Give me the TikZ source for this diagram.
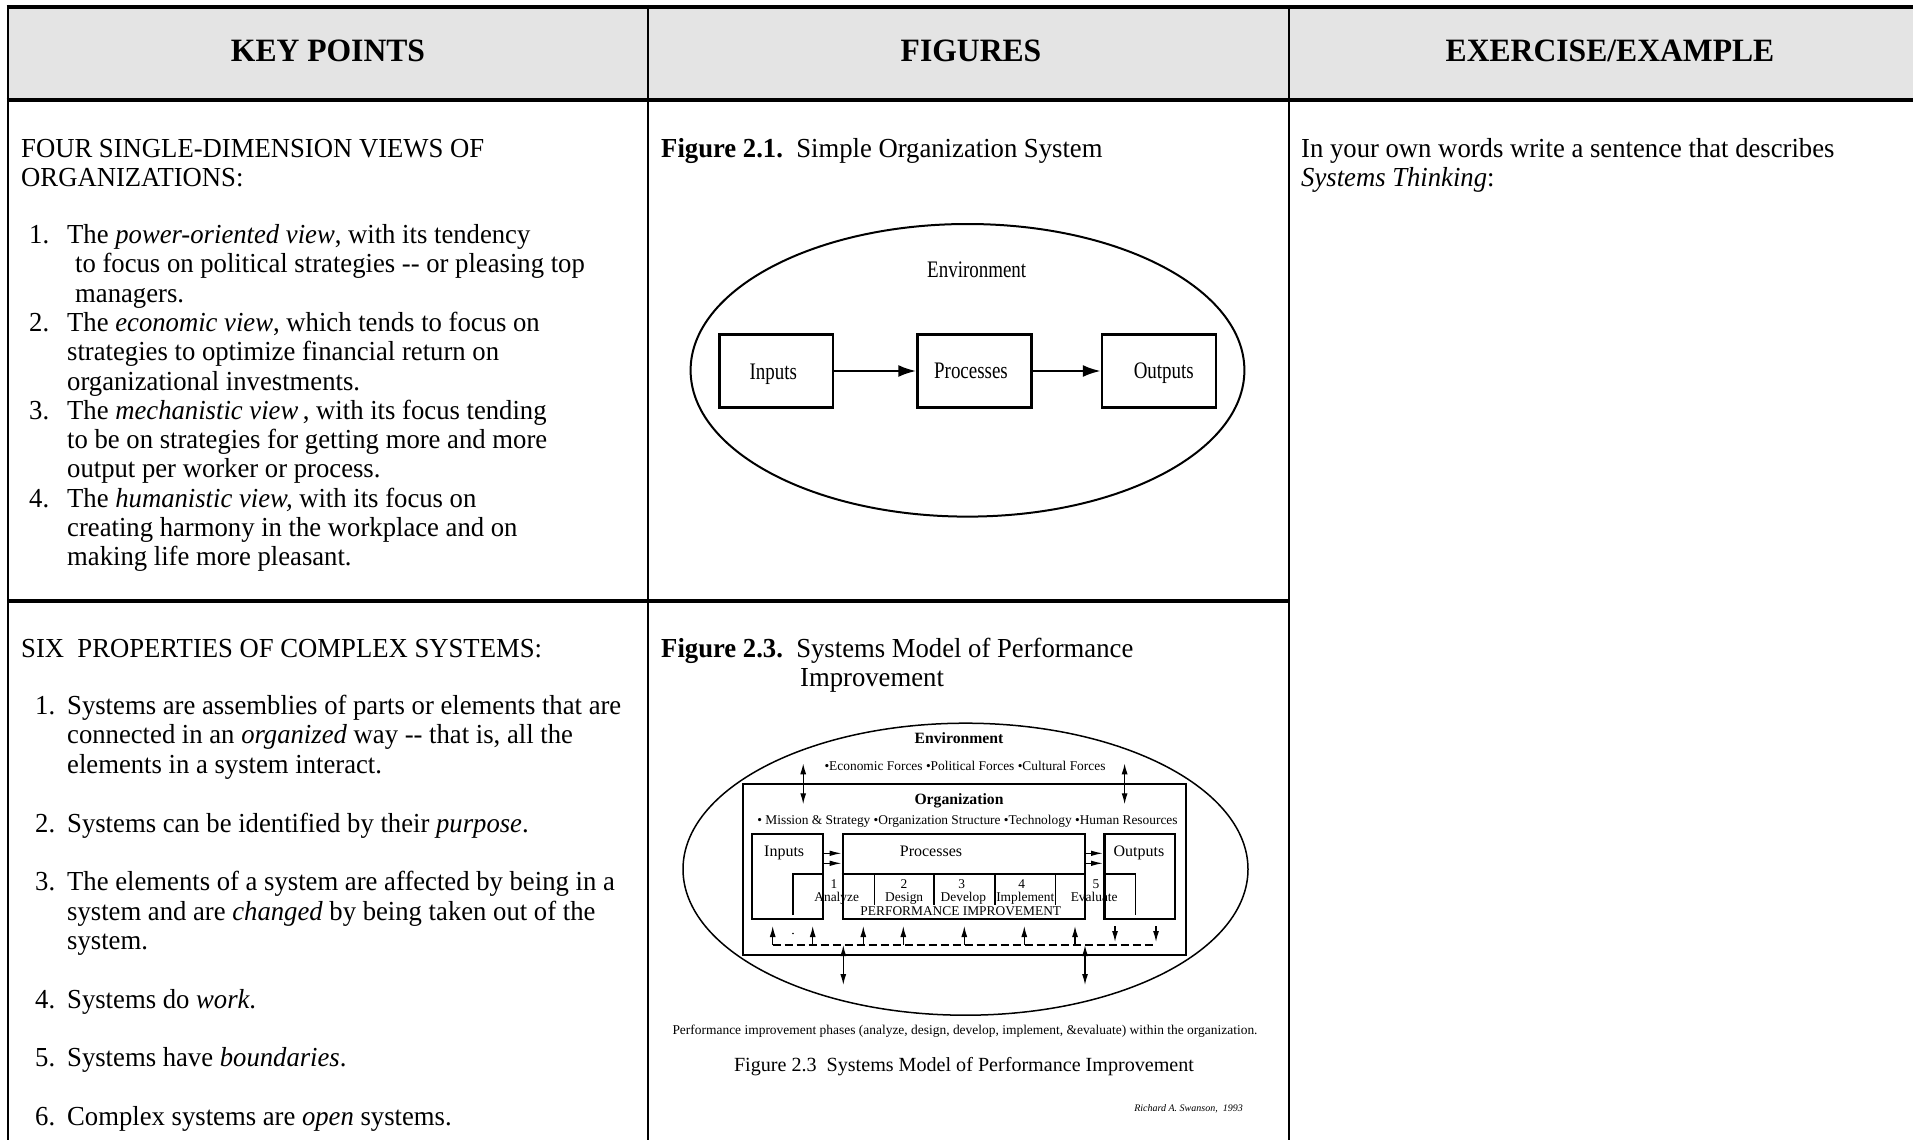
\documentclass[tikz,border=0pt]{standalone}
\usepackage{fontspec}
\setmainfont{Liberation Serif}[FakeStretch=0.97]
\newfontfamily\condfont{Liberation Serif}[FakeStretch=0.8]
\newfontfamily\figfont{Liberation Serif}
\usetikzlibrary{arrows.meta}
\definecolor{hdrgray}{HTML}{E4E4E4}
\tikzset{
  body/.style={inner sep=0pt, anchor=base west, font=\fontsize{27.5}{29}\selectfont},
  hdr/.style={inner sep=0pt, anchor=base, font=\fontsize{32.6}{36}\selectfont\bfseries},
  f1txt/.style={inner sep=0pt, anchor=base, font=\condfont\fontsize{23.7}{26}\selectfont},
  f1box/.style={draw, line width=2.5pt, minimum width=113.7pt, minimum height=73.4pt, inner sep=0pt},
  f1arr/.style={line width=2.5pt, -{Latex[length=18pt,width=12pt]}},
  thickrule/.style={line width=4pt},
  vrule/.style={line width=2.6pt},
  f3bold/.style={inner sep=0pt, anchor=base, font=\figfont\fontsize{15.7}{17}\selectfont\bfseries},
  f3small/.style={inner sep=0pt, anchor=base, font=\figfont\fontsize{13.4}{14}\selectfont},
  f3lab/.style={inner sep=0pt, anchor=base, font=\figfont\fontsize{16}{17}\selectfont},
  f3box/.style={draw, line width=2.6pt, minimum height=85pt, inner sep=0pt},
  f3line/.style={line width=1.3pt},
  sa/.style={line width=1.3pt, -{Latex[length=11pt,width=6pt]}},
  dbl/.style={line width=1.3pt, {Latex[length=11pt,width=6pt]}-{Latex[length=11pt,width=6pt]}},
  dash3/.style={line width=1.2pt, dash pattern=on 8pt off 4pt},
}
\begin{document}
\begin{tikzpicture}[x=1pt,y=-1pt]
\useasboundingbox (0,0) rectangle (1917,1140);
\fill[white] (0,0) rectangle (1917,1140);
% ---------- table ----------
\fill[hdrgray] (8,7) rectangle (1913,100);
\draw[thickrule] (6.7,7) -- (1913,7);
\draw[thickrule] (6.7,100) -- (1913,100);
\draw[vrule] (8,5) -- (8,1140);
\draw[vrule] (648,5) -- (648,1140);
\draw[vrule] (1289,5) -- (1289,1140);
\draw[line width=3.5pt] (8,601) -- (1289,601);
\node[hdr] (h1) at (328,62) {KEY POINTS};
\node[hdr] (h2) at (971,62) {FIGURES};
\node[hdr] (h3) at (1610,62) {EXERCISE/EXAMPLE};
% ---------- column 1, upper ----------
\node[body] (a0) at (21,157) {FOUR SINGLE-DIMENSION VIEWS OF};
\node[body] (a1) at (21,186) {ORGANIZATIONS:};
\node[body] (n1) at (29,243.5) {1.};
\node[body] (a2) at (67,243.5) {The \textit{power-oriented view}, with its tendency};
\node[body] (a3) at (75,272.8) {to focus on political strategies -{}- or pleasing top};
\node[body] (a4) at (75,302.1) {managers.};
\node[body] (n2) at (29,331.4) {2.};
\node[body] (a5) at (67,331.4) {The \textit{economic view}, which tends to focus on};
\node[body] (a6) at (67,360.7) {strategies to optimize financial return on};
\node[body] (a7) at (67,390) {organizational investments.};
\node[body] (n3) at (29,419.3) {3.};
\node[body] (a8) at (67,419.3) {The \textit{mechanistic view}\,, with its focus tending};
\node[body] (a9) at (67,448.6) {to be on strategies for getting more and more};
\node[body] (a10) at (67,477.9) {output per worker or process.};
\node[body] (n4) at (29,507.2) {4.};
\node[body] (a11) at (67,507.2) {The \textit{humanistic view,} with its focus on};
\node[body] (a12) at (67,536.5) {creating harmony in the workplace and on};
\node[body] (a13) at (67,565.8) {making life more pleasant.};
% ---------- column 1, lower ----------
\node[body] (b0) at (21,657) {SIX\ \ PROPERTIES OF COMPLEX SYSTEMS:};
\node[body] (m1) at (35,714.6) {1.};
\node[body] (b1) at (67,714.6) {Systems are assemblies of parts or elements that are};
\node[body] (b2) at (67,743.9) {connected in an \textit{organized} way -{}- that is, all the};
\node[body] (b3) at (67,773.3) {elements in a system interact.};
\node[body] (m2) at (35,832) {2.};
\node[body] (b4) at (67,832) {Systems can be identified by their \textit{purpose}.};
\node[body] (m3) at (35,890.7) {3.};
\node[body] (b5) at (67,890.7) {The elements of a system are affected by being in a};
\node[body] (b6) at (67,920) {system and are \textit{changed} by being taken out of the};
\node[body] (b7) at (67,949.4) {system.};
\node[body] (m4) at (35,1008) {4.};
\node[body] (b8) at (67,1008) {Systems do \textit{work}.};
\node[body] (m5) at (35,1066.7) {5.};
\node[body] (b9) at (67,1066.7) {Systems have \textit{boundaries}.};
\node[body] (m6) at (35,1125.4) {6.};
\node[body] (b10) at (67,1125.4) {Complex systems are \textit{open} systems.};
% ---------- column 3 ----------
\node[body] (c1) at (1301,157) {In your own words write a sentence that describes};
\node[body] (c2) at (1301,186) {\textit{Systems Thinking}:};
% ---------- Figure 2.1 ----------
\node[body] (fig1cap) at (661,157) {\textbf{Figure 2.1.}\ \ Simple Organization System};
\draw[line width=2pt] (967.5,370.3) ellipse [x radius=276.9, y radius=146.3];
\node[f1txt] (f1env) at (976.7,277.3) {Environment};
\node[f1box] (f1in) at (776.2,371) {};
\node[f1box] (f1pr) at (974.4,371) {};
\node[f1box] (f1out) at (1158.9,371) {};
\node[f1txt] (f1inl) at (773.3,379) {Inputs};
\node[f1txt] (f1prl) at (971,378) {Processes};
\node[f1txt] (f1outl) at (1163.8,378) {Outputs};
\draw[f1arr] (f1in) -- (f1pr);
\draw[f1arr] (f1pr) -- (f1out);
% ---------- Figure 2.3 ----------
\node[body] (fig3cap) at (661,657) {\textbf{Figure 2.3.}\ \ Systems Model of Performance};
\node[body] (fig3cap2) at (800,686) {Improvement};
\draw[line width=1.5pt] (965.5,869.2) ellipse [x radius=282.5, y radius=146];
\node[f3bold] (envt) at (959,743.3) {Environment};
\node[f3small] (forces) at (965,770) {\textbullet Economic Forces \textbullet Political Forces \textbullet Cultural Forces};
\node[draw, line width=1.8pt, minimum width=443.2pt, minimum height=170.7pt, inner sep=0pt] (org) at (964.3,869.65) {};
\node[f3bold] (orgt) at (959,804.3) {Organization};
\node[f3small] (mission) at (967.5,824.3) {\textbullet{} Mission \& Strategy \textbullet Organization Structure \textbullet Technology \textbullet Human Resources};
% top double arrows
\coordinate (ta1) at (803.2,763.3); \coordinate (tb1) at (803.2,804.3);
\coordinate (ta2) at (1124.6,763.3); \coordinate (tb2) at (1124.6,804.3);
\draw[dbl] (ta1) -- (tb1);
\draw[dbl] (ta2) -- (tb2);
% inner boxes
\node[f3box, minimum width=71pt] (inp) at (787.5,876.5) {};
\node[f3box, minimum width=242pt] (proc) at (964,876.5) {};
\node[f3box, minimum width=70.7pt] (outp) at (1139.7,876.5) {};
\node[f3lab, anchor=base west] (inpl) at (764,856.7) {Inputs};
\node[f3lab] (procl) at (931,856.7) {Processes};
\node[f3lab] (outpl) at (1139,856.7) {Outputs};
\draw[f3line] (proc.west |- 0,874) -- (proc.east |- 0,874);
\draw[f3line] (793,915) -- (793,874) -- (inp.east |- 0,874);
\draw[f3line] (outp.west |- 0,874) -- (1135.7,874) -- (1135.7,915);
\foreach \x in {874.5,934,995,1055.7} \draw[f3line] (\x,874) -- (\x,905);
% small arrows between boxes
\draw[line width=1.3pt, -{Latex[length=12pt,width=5.5pt]}] ([yshift=23.2pt]inp.east) -- ([yshift=23.2pt]proc.west);
\draw[line width=1.3pt, -{Latex[length=12pt,width=5.5pt]}] ([yshift=13.2pt]inp.east) -- ([yshift=13.2pt]proc.west);
\draw[line width=1.3pt, -{Latex[length=12pt,width=5.5pt]}] ([yshift=23.2pt]proc.east) -- ([yshift=23.2pt]outp.west);
\draw[line width=1.3pt, -{Latex[length=12pt,width=5.5pt]}] ([yshift=13.2pt]proc.east) -- ([yshift=13.2pt]outp.west);
% phase labels
\node[f3small] (p1n) at (834,888) {1};
\node[f3small] (p1) at (836.7,901.7) {Analyze};
\node[f3small] (p2n) at (904,888) {2};
\node[f3small] (p2) at (904.2,901.7) {Design};
\node[f3small] (p3n) at (961.7,888) {3};
\node[f3small] (p3) at (963.4,901.7) {Develop};
\node[f3small] (p4n) at (1021.7,888) {4};
\node[f3small] (p4) at (1025.3,901.7) {Implement};
\node[f3small] (p5n) at (1096,888) {5};
\node[f3small] (p5) at (1094.2,901.7) {Evaluate};
\node[f3small] (perf) at (960.8,915.3) {PERFORMANCE IMPROVEMENT};
% dashed feedback line
\coordinate (dl) at (772.7,945); \coordinate (dr) at (1156,945);
\draw[dash3] (dl) -- (dr);
\foreach \x [count=\i] in {772.7,812.7,863.3,903.3,964.3,1024.3,1075} {
  \coordinate (ub\i) at (\x,945); \coordinate (ut\i) at (\x,926);
  \draw[sa] (ub\i) -- (ut\i);
}
\foreach \x [count=\i] in {1115,1156} {
  \coordinate (db\i) at (\x,926); \coordinate (dt\i) at (\x,942);
  \draw[sa] (db\i) -- (dt\i);
}
\fill (793,933.5) circle (0.9);
% big double arrows
\coordinate (ba1) at (843.3,945); \coordinate (bb1) at (843.3,985);
\coordinate (ba2) at (1085,945); \coordinate (bb2) at (1085,985);
\draw[dbl] (ba1) -- (bb1);
\draw[dbl] (ba2) -- (bb2);
% captions
\node[inner sep=0pt, anchor=base, font=\figfont\fontsize{13.45}{14}\selectfont] (pcap) at (965,1034) {Performance improvement phases (analyze, design, develop, implement, \&evaluate) within the organization.};
\node[inner sep=0pt, anchor=base, font=\figfont\fontsize{20.1}{22}\selectfont] (fcap) at (964,1071) {Figure 2.3\ \ Systems Model of Performance Improvement};
\node[inner sep=0pt, anchor=base east, font=\figfont\fontsize{10}{11}\selectfont\itshape] (rs) at (1243,1111.5) {Richard A. Swanson,\ \ 1993};
\end{tikzpicture}
\end{document}
